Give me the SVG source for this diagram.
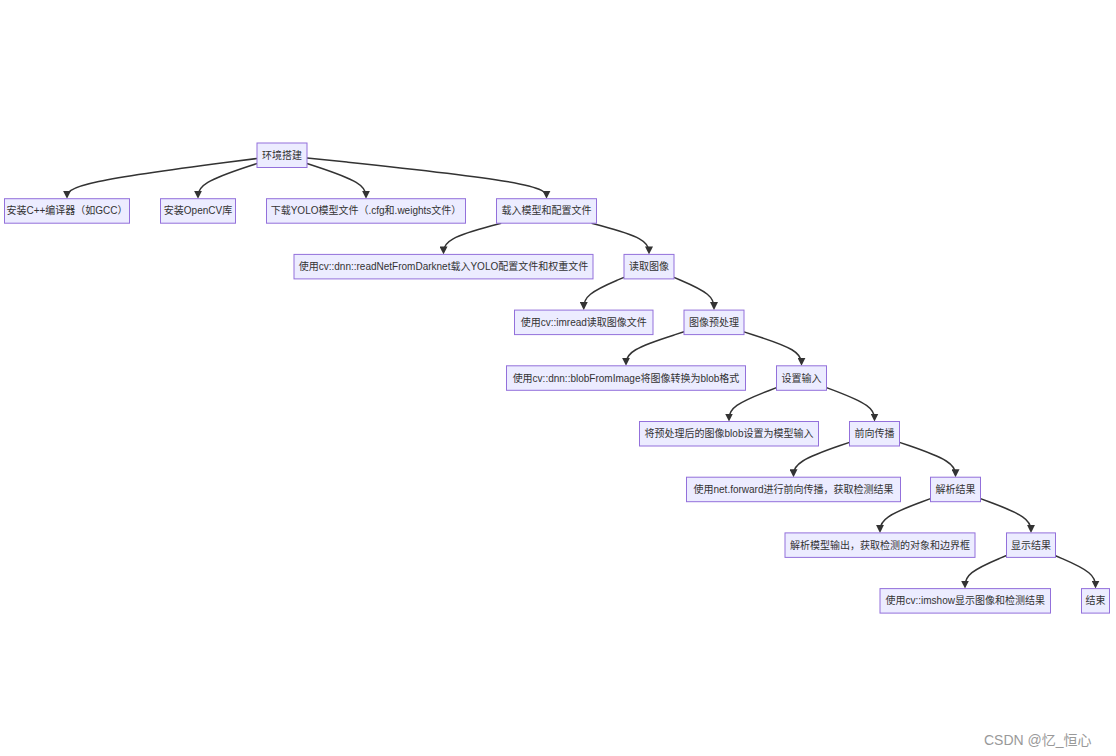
<svg xmlns="http://www.w3.org/2000/svg" width="1116" height="756" viewBox="0 0 1116 756">
<style>
.node rect{fill:#ECECFF;stroke:#9370DB;stroke-width:1}
.node text{font-family:"Liberation Sans","Noto Sans CJK SC",sans-serif;font-size:10px;fill:#333;text-anchor:middle;dominant-baseline:central}
.edges path{fill:none;stroke:#333;stroke-width:1.5;marker-end:url(#ah)}
.wm{font-family:"Liberation Sans","Noto Sans CJK SC",sans-serif;font-size:14px;fill:#999}
</style>
<defs>
<marker id="ah" viewBox="0 0 10 10" refX="6.75" refY="5" markerWidth="8" markerHeight="8" markerUnits="userSpaceOnUse" orient="auto"><path d="M0,0 L10,5 L0,10 z" fill="#333"/></marker>
</defs>
<rect x="0" y="0" width="1116" height="756" fill="#fff"/>
<g class="edges">
<path d="M257,158.49 L225.33,162.59 C193.67,166.69 130.33,174.9 98.67,181.6 C67,188.3 67,193.5 67,196.1"/>
<path d="M257,163.54 L247.17,166.8 C237.33,170.06 217.67,176.58 207.83,182.44 C198,188.3 198,193.5 198,196.1"/>
<path d="M307,163.54 L316.83,166.8 C326.67,170.06 346.33,176.58 356.17,182.44 C366,188.3 366,193.5 366,196.1"/>
<path d="M307,157.88 L346.92,162.08 C386.83,166.29 466.67,174.69 506.58,181.5 C546.5,188.3 546.5,193.5 546.5,196.1"/>
<path d="M501.19,223.2 L491.57,225.8 C481.96,228.4 462.73,233.6 453.12,238.8 C443.5,244 443.5,249.2 443.5,251.8"/>
<path d="M591.59,223.2 L601.16,225.8 C610.73,228.4 629.86,233.6 639.43,238.8 C649,244 649,249.2 649,251.8"/>
<path d="M624,277.32 L617.29,280.18 C610.58,283.05 597.17,288.77 590.46,294.24 C583.75,299.7 583.75,304.9 583.75,307.5"/>
<path d="M674,277.36 L680.67,280.22 C687.33,283.07 700.67,288.79 707.33,294.24 C714,299.7 714,304.9 714,307.5"/>
<path d="M684,331.84 L674.33,334.9 C664.67,337.96 645.33,344.08 635.67,349.74 C626,355.4 626,360.6 626,363.2"/>
<path d="M744,331.9 L753.58,334.95 C763.17,338 782.33,344.1 791.92,349.75 C801.5,355.4 801.5,360.6 801.5,363.2"/>
<path d="M776.5,387.65 L768.58,390.69 C760.67,393.73 744.83,399.82 736.92,405.46 C729,411.1 729,416.3 729,418.9"/>
<path d="M826.5,387.59 L834.5,390.64 C842.5,393.69 858.5,399.8 866.5,405.45 C874.5,411.1 874.5,416.3 874.5,418.9"/>
<path d="M849.5,442.35 L840.17,445.56 C830.83,448.77 812.17,455.18 802.83,460.99 C793.5,466.8 793.5,472 793.5,474.6"/>
<path d="M899.5,442.35 L908.83,445.56 C918.17,448.77 936.83,455.18 946.17,460.99 C955.5,466.8 955.5,472 955.5,474.6"/>
<path d="M930.5,498.67 L922.08,501.78 C913.67,504.88 896.83,511.09 888.42,516.8 C880,522.5 880,527.7 880,530.3"/>
<path d="M980.5,498.67 L988.92,501.78 C997.33,504.88 1014.17,511.09 1022.58,516.8 C1031,522.5 1031,527.7 1031,530.3"/>
<path d="M1006.5,555.49 L999.58,558.41 C992.67,561.33 978.83,567.16 971.92,572.68 C965,578.2 965,583.4 965,586"/>
<path d="M1055.5,555.73 L1062.17,558.61 C1068.83,561.49 1082.17,567.24 1088.83,572.72 C1095.5,578.2 1095.5,583.4 1095.5,586"/>
</g>
<g id="n1" class="node"><rect x="257" y="143" width="50" height="24.5"/><text x="282" y="155.25">环境搭建</text></g>
<g id="n2" class="node"><rect x="4.5" y="198.7" width="125" height="24.5"/><text x="67" y="210.95">安装C++编译器（如GCC）</text></g>
<g id="n3" class="node"><rect x="160.5" y="198.7" width="75" height="24.5"/><text x="198" y="210.95">安装OpenCV库</text></g>
<g id="n4" class="node"><rect x="266.5" y="198.7" width="199" height="24.5"/><text x="366" y="210.95">下载YOLO模型文件（.cfg和.weights文件）</text></g>
<g id="n5" class="node"><rect x="496.5" y="198.7" width="100" height="24.5"/><text x="546.5" y="210.95">载入模型和配置文件</text></g>
<g id="n6" class="node"><rect x="294" y="254.4" width="299" height="24.5"/><text x="443.5" y="266.65">使用cv::dnn::readNetFromDarknet载入YOLO配置文件和权重文件</text></g>
<g id="n7" class="node"><rect x="624" y="254.4" width="50" height="24.5"/><text x="649" y="266.65">读取图像</text></g>
<g id="n8" class="node"><rect x="514.5" y="310.1" width="138.5" height="24.5"/><text x="583.75" y="322.35">使用cv::imread读取图像文件</text></g>
<g id="n9" class="node"><rect x="684" y="310.1" width="60" height="24.5"/><text x="714" y="322.35">图像预处理</text></g>
<g id="n10" class="node"><rect x="506.5" y="365.8" width="239" height="24.5"/><text x="626" y="378.05">使用cv::dnn::blobFromImage将图像转换为blob格式</text></g>
<g id="n11" class="node"><rect x="776.5" y="365.8" width="50" height="24.5"/><text x="801.5" y="378.05">设置输入</text></g>
<g id="n12" class="node"><rect x="639.5" y="421.5" width="179" height="24.5"/><text x="729" y="433.75">将预处理后的图像blob设置为模型输入</text></g>
<g id="n13" class="node"><rect x="849.5" y="421.5" width="50" height="24.5"/><text x="874.5" y="433.75">前向传播</text></g>
<g id="n14" class="node"><rect x="686.5" y="477.2" width="214" height="24.5"/><text x="793.5" y="489.45">使用net.forward进行前向传播，获取检测结果</text></g>
<g id="n15" class="node"><rect x="930.5" y="477.2" width="50" height="24.5"/><text x="955.5" y="489.45">解析结果</text></g>
<g id="n16" class="node"><rect x="785" y="532.9" width="190" height="24.5"/><text x="880" y="545.15">解析模型输出，获取检测的对象和边界框</text></g>
<g id="n17" class="node"><rect x="1006.5" y="532.9" width="49" height="24.5"/><text x="1031" y="545.15">显示结果</text></g>
<g id="n18" class="node"><rect x="880" y="588.6" width="170.5" height="24.5"/><text x="965.25" y="600.85">使用cv::imshow显示图像和检测结果</text></g>
<g id="n19" class="node"><rect x="1081.5" y="588.6" width="28" height="24.5"/><text x="1095.5" y="600.85">结束</text></g>
<text class="wm" x="984" y="745">CSDN @忆_恒心</text>
</svg>
